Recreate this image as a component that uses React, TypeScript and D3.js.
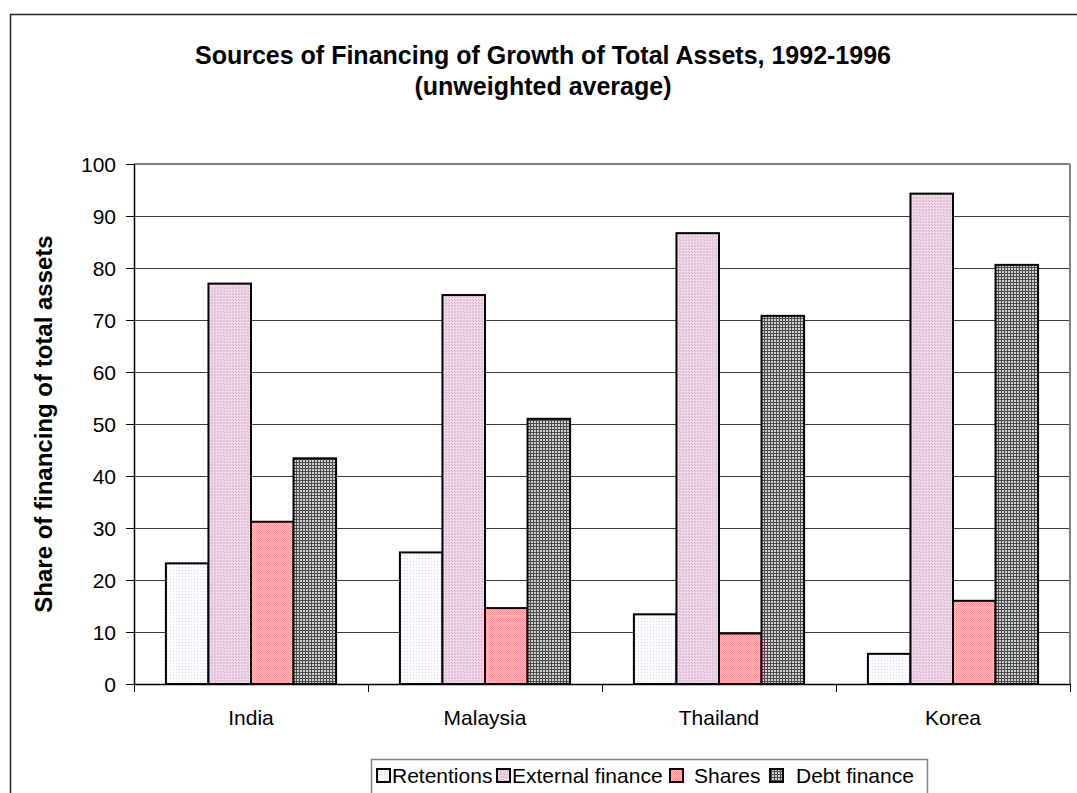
import * as d3 from "d3";

const countries = ["India", "Malaysia", "Thailand", "Korea"];
const seriesNames = ["Retentions", "External finance", "Shares", "Debt finance"];
const retentions = [23.2, 25.3, 13.4, 5.8];
const externalFinance = [77.0, 74.8, 86.7, 94.3];
const shares = [31.2, 14.6, 9.7, 16.0];
const debtFinance = [43.4, 51.0, 70.8, 80.6];
const yTicks = [0, 10, 20, 30, 40, 50, 60, 70, 80, 90, 100];

const seriesValues = [retentions, externalFinance, shares, debtFinance];
const fills = ["url(#pRet)", "url(#pExt)", "url(#pSha)", "url(#pDebt)"];

const W = 1077;
const H = 793;
const plot = { left: 134, right: 1070, top: 164, bottom: 684 };
const font = "Arial, 'Liberation Sans', sans-serif";

// legend entries: swatch x, text x
const legendPos = [
  { sx: 377, tx: 392 },
  { sx: 497, tx: 512 },
  { sx: 670, tx: 694 },
  { sx: 770, tx: 796 },
];

export default function App() {
  const x0 = d3
    .scaleBand<string>()
    .domain(countries)
    .range([plot.left, plot.right])
    .paddingInner(0)
    .paddingOuter(0);
  const groupW = x0.bandwidth();
  // Excel gap width 150%: group = 4 bars, gap = 1.5 bar
  const barW = groupW / (seriesNames.length + 1.5);
  const x1 = d3
    .scaleBand<string>()
    .domain(seriesNames)
    .range([barW * 0.75, barW * 0.75 + barW * seriesNames.length]);
  const y = d3.scaleLinear().domain([0, 100]).range([plot.bottom, plot.top]);

  return (
    <svg
      width={W}
      height={H}
      style={{ position: "absolute", left: 0, top: 0, background: "#fff" }}
      fontFamily={font}
    >
      <defs>
        <pattern id="pRet" width="3" height="3" patternUnits="userSpaceOnUse">
          <rect width="3" height="3" fill="#fdfcff" />
          <rect width="1" height="1" fill="#ddd6f2" />
        </pattern>
        <pattern id="pExt" width="3" height="3" patternUnits="userSpaceOnUse">
          <rect width="3" height="3" fill="#ecd2e4" />
          <rect x="0" y="0" width="1" height="1" fill="#d8b8d0" />
          <rect x="1" y="1" width="1" height="1" fill="#f6e8f2" />
          <rect x="2" y="2" width="1" height="1" fill="#d8b8d0" />
        </pattern>
        <pattern id="pSha" width="2" height="2" patternUnits="userSpaceOnUse">
          <rect width="2" height="2" fill="#ffc4c4" />
          <rect x="0" y="0" width="1" height="1" fill="#ff8a8a" />
          <rect x="1" y="1" width="1" height="1" fill="#ff9e9e" />
        </pattern>
        <pattern id="pDebt" width="3" height="3" patternUnits="userSpaceOnUse">
          <rect width="3" height="3" fill="#cfcfcf" />
          <rect x="0" y="0" width="3" height="1" fill="#4a4a4a" />
          <rect x="0" y="0" width="1" height="3" fill="#4a4a4a" />
        </pattern>
      </defs>

      {/* chart frame */}
      <rect x={10.5} y={14.5} width={1100} height={900} fill="#fff" stroke="#222" strokeWidth={1.5} />

      {/* title */}
      <text x={543} y={64} textAnchor="middle" fontSize={25} fontWeight="bold">
        Sources of Financing of Growth of Total Assets, 1992-1996
      </text>
      <text x={543} y={95} textAnchor="middle" fontSize={25} fontWeight="bold">
        (unweighted average)
      </text>

      {/* gridlines */}
      {yTicks.map((t) => (
        <line
          key={t}
          x1={plot.left}
          x2={plot.right}
          y1={Math.round(y(t)) + 0.5}
          y2={Math.round(y(t)) + 0.5}
          stroke="#3a3a3a"
          strokeWidth={1}
        />
      ))}
      {/* plot border (top/right gray) */}
      <line x1={plot.left} x2={plot.right} y1={plot.top} y2={plot.top} stroke="#808080" strokeWidth={2} />
      <line x1={plot.right} x2={plot.right} y1={plot.top} y2={plot.bottom} stroke="#808080" strokeWidth={2} />

      {/* bars */}
      {countries.map((c, ci) => (
        <g key={c} transform={`translate(${x0(c)},0)`}>
          {seriesNames.map((s, si) => {
            const v = seriesValues[si][ci];
            return (
              <rect
                key={s}
                x={x1(s)}
                y={y(v)}
                width={x1.bandwidth()}
                height={y(0) - y(v)}
                fill={fills[si]}
                stroke="#000"
                strokeWidth={2}
              />
            );
          })}
        </g>
      ))}

      {/* y axis */}
      <line x1={plot.left + 0.5} x2={plot.left + 0.5} y1={plot.top} y2={plot.bottom} stroke="#000" strokeWidth={1.5} />
      {yTicks.map((t) => (
        <g key={t}>
          <line x1={plot.left - 8} x2={plot.left} y1={y(t) + 0.5} y2={y(t) + 0.5} stroke="#000" />
          <text x={116} y={y(t)} dy="0.36em" textAnchor="end" fontSize={21}>
            {t}
          </text>
        </g>
      ))}
      <text
        transform={`translate(52,${(plot.top + plot.bottom) / 2}) rotate(-90)`}
        textAnchor="middle"
        fontSize={24}
        fontWeight="bold"
      >
        Share of financing of total assets
      </text>

      {/* x axis */}
      <line x1={plot.left} x2={plot.right} y1={plot.bottom + 0.5} y2={plot.bottom + 0.5} stroke="#000" strokeWidth={1.5} />
      {[...countries.map((c) => x0(c) as number), plot.right].map((tx, i) => (
        <line key={i} x1={tx + 0.5} x2={tx + 0.5} y1={plot.bottom} y2={plot.bottom + 8} stroke="#000" />
      ))}
      {countries.map((c) => (
        <text key={c} x={(x0(c) as number) + groupW / 2} y={725} textAnchor="middle" fontSize={21}>
          {c}
        </text>
      ))}

      {/* legend */}
      <rect x={371.5} y={759.5} width={556} height={50} fill="#fff" stroke="#808080" strokeWidth={1.5} />
      {seriesNames.map((s, i) => (
        <g key={s}>
          <rect
            x={legendPos[i].sx}
            y={769}
            width={13}
            height={13}
            fill={fills[i]}
            stroke="#000"
            strokeWidth={2}
          />
          <text x={legendPos[i].tx} y={783} fontSize={21}>
            {s}
          </text>
        </g>
      ))}
    </svg>
  );
}
